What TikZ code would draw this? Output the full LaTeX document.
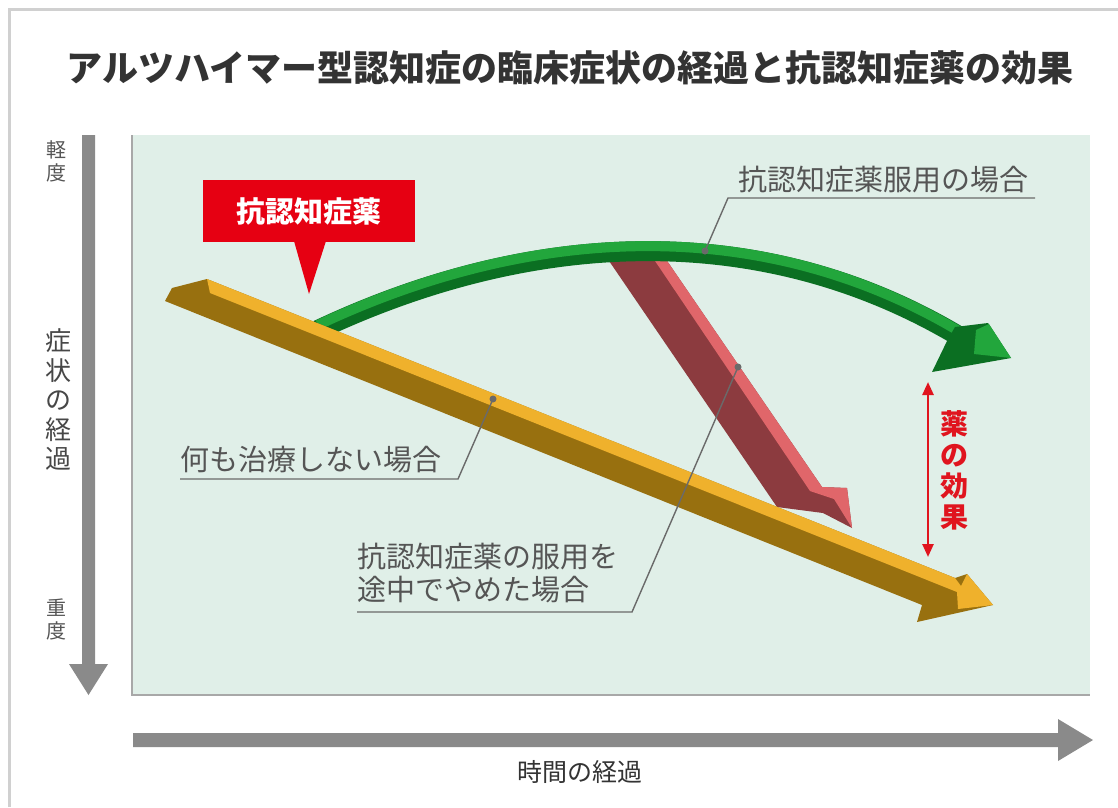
\documentclass[tikz,border=0pt]{standalone}
\usepackage{fontspec}
\usetikzlibrary{arrows.meta}
\newfontfamily\jp{Noto Sans CJK JP}
\definecolor{framegray}{HTML}{D0D0D0}
\definecolor{plotbg}{HTML}{E0EFE8}
\definecolor{plotedge}{HTML}{A8A8A8}
\definecolor{axisgray}{HTML}{8A8A8A}
\definecolor{ylight}{HTML}{EFB12C}
\definecolor{ydark}{HTML}{98700F}
\definecolor{glight}{HTML}{22A63C}
\definecolor{gdark}{HTML}{0B6F22}
\definecolor{rlight}{HTML}{E0666A}
\definecolor{rdark}{HTML}{8C3B3F}
\definecolor{callred}{HTML}{E60012}
\definecolor{effred}{HTML}{E0141E}
\definecolor{labgray}{HTML}{555555}
\definecolor{titlegray}{HTML}{333333}
\definecolor{leadgray}{HTML}{6A6A6A}
\begin{document}
\begin{tikzpicture}[x=1pt,y=-1pt,
  every node/.style={inner sep=0pt,outer sep=0pt},
  lab/.style={text=labgray,font={\jp\fontsize{29}{33}\selectfont}},
  vlab/.style={text=labgray,align=center},
  leader/.style={draw=leadgray,line width=1.4pt},
  leaddot/.style={fill=leadgray,circle,minimum size=7pt}]
\useasboundingbox (0,0) rectangle (1118,807);
\fill[white] (0,0) rectangle (1118,807);
% frame
\draw[framegray,line width=3pt] (9.5,807) -- (9.5,9.5) -- (1118,9.5);
% title
\node[text=titlegray,font={\jp\bfseries\fontsize{36}{40}\selectfont}] (title) at (570,68) {アルツハイマー型認知症の臨床症状の経過と抗認知症薬の効果};
% plot area
\fill[plotbg] (132,135) rectangle (1090,695);
\draw[plotedge,line width=2pt] (132,135) -- (132,695) -- (1090,695);
% axes
\fill[axisgray] (82,135) -- (95,135) -- (95,664) -- (108,664) -- (88.5,695) -- (69,664) -- (82,664) -- cycle;
\fill[axisgray] (133,733) -- (1058,733) -- (1058,719) -- (1093,740) -- (1058,761) -- (1058,747) -- (133,747) -- cycle;
\node[vlab,font={\jp\fontsize{20}{23}\selectfont}] (mild) at (56,161) {軽\\度};
\node[vlab,text=titlegray!90,font={\jp\fontsize{26}{29.5}\selectfont}] (course) at (58,400) {症\\状\\の\\経\\過};
\node[vlab,font={\jp\fontsize{20}{23}\selectfont}] (severe) at (56,619) {重\\度};
\node[text=titlegray,font={\jp\fontsize{25}{28}\selectfont}] (time) at (580,772) {時間の経過};
% red arrow (stopped)
\fill[rdark] (605,255) -- (663,255) -- (822,487) -- (847,488) -- (852,528) -- (823,513) -- (777,507) -- cycle;
\fill[rlight] (651,255) -- (663,255) -- (822,487) -- (847,488) -- (852,528) -- (834,499) -- (810,491) -- cycle;
% green arrow
\draw[gdark,line width=20pt] (318,330) .. controls (541,225) and (770,222) .. (962,338);
\draw[glight,line width=10pt] (318,325) .. controls (541,220) and (770,217) .. (962,333);
\fill[gdark] (955,327) -- (988,323) -- (1011,358) -- (932,372) -- (947,341) -- cycle;
\fill[glight] (976,330) -- (989,324) -- (1011,358) -- (974,354) -- cycle;
% yellow arrow
\fill[ydark] (207,279) -- (172,288) -- (165,301) -- (922,605) -- (917,622) -- (993,605) -- (967,574) -- (955,578) -- cycle;
\fill[ylight] (207,279) -- (955,578) -- (961,586) -- (967,574) -- (993,605) -- (958,609) -- (957,592) -- (210,293) -- cycle;
% callout
\node[fill=callred,minimum width=212pt,minimum height=62pt,text=white,font={\jp\bfseries\fontsize{29}{33}\selectfont}] (callout) at (309,211) {抗認知症薬};
\fill[callred] (294,241) -- (326,241) -- (309,294) -- cycle;
% effect arrow
\coordinate (effTop) at (928,382);
\coordinate (effBot) at (928,557);
\draw[effred,line width=2.5pt,{Triangle[width=11pt,length=13pt]}-{Triangle[width=11pt,length=13pt]}] (effTop) -- (effBot);
\node[align=center,text=effred,font={\jp\bfseries\fontsize{28}{31}\selectfont}] (effect) at (954,470) {薬\\の\\効\\果};
% labels and leaders
\node[lab,anchor=west] (takeLab) at (738,180) {抗認知症薬服用の場合};
\coordinate (takeUa) at (728,198);
\coordinate (takeUb) at (1035,198);
\node[leaddot] (takeDot) at (705,251) {};
\draw[leader] (takeUb) -- (takeUa) -- (takeDot.center);
\node[lab,anchor=west] (noneLab) at (180,460) {何も治療しない場合};
\coordinate (noneUa) at (180,479);
\coordinate (noneUb) at (458,479);
\node[leaddot] (noneDot) at (493,399) {};
\draw[leader] (noneUa) -- (noneUb) -- (noneDot.center);
\node[lab,anchor=west,align=left] (stopLab) at (357,573) {抗認知症薬の服用を\\途中でやめた場合};
\coordinate (stopUa) at (357,612);
\coordinate (stopUb) at (632,612);
\node[leaddot] (stopDot) at (738,367) {};
\draw[leader] (stopUa) -- (stopUb) -- (stopDot.center);
\end{tikzpicture}
\end{document}
